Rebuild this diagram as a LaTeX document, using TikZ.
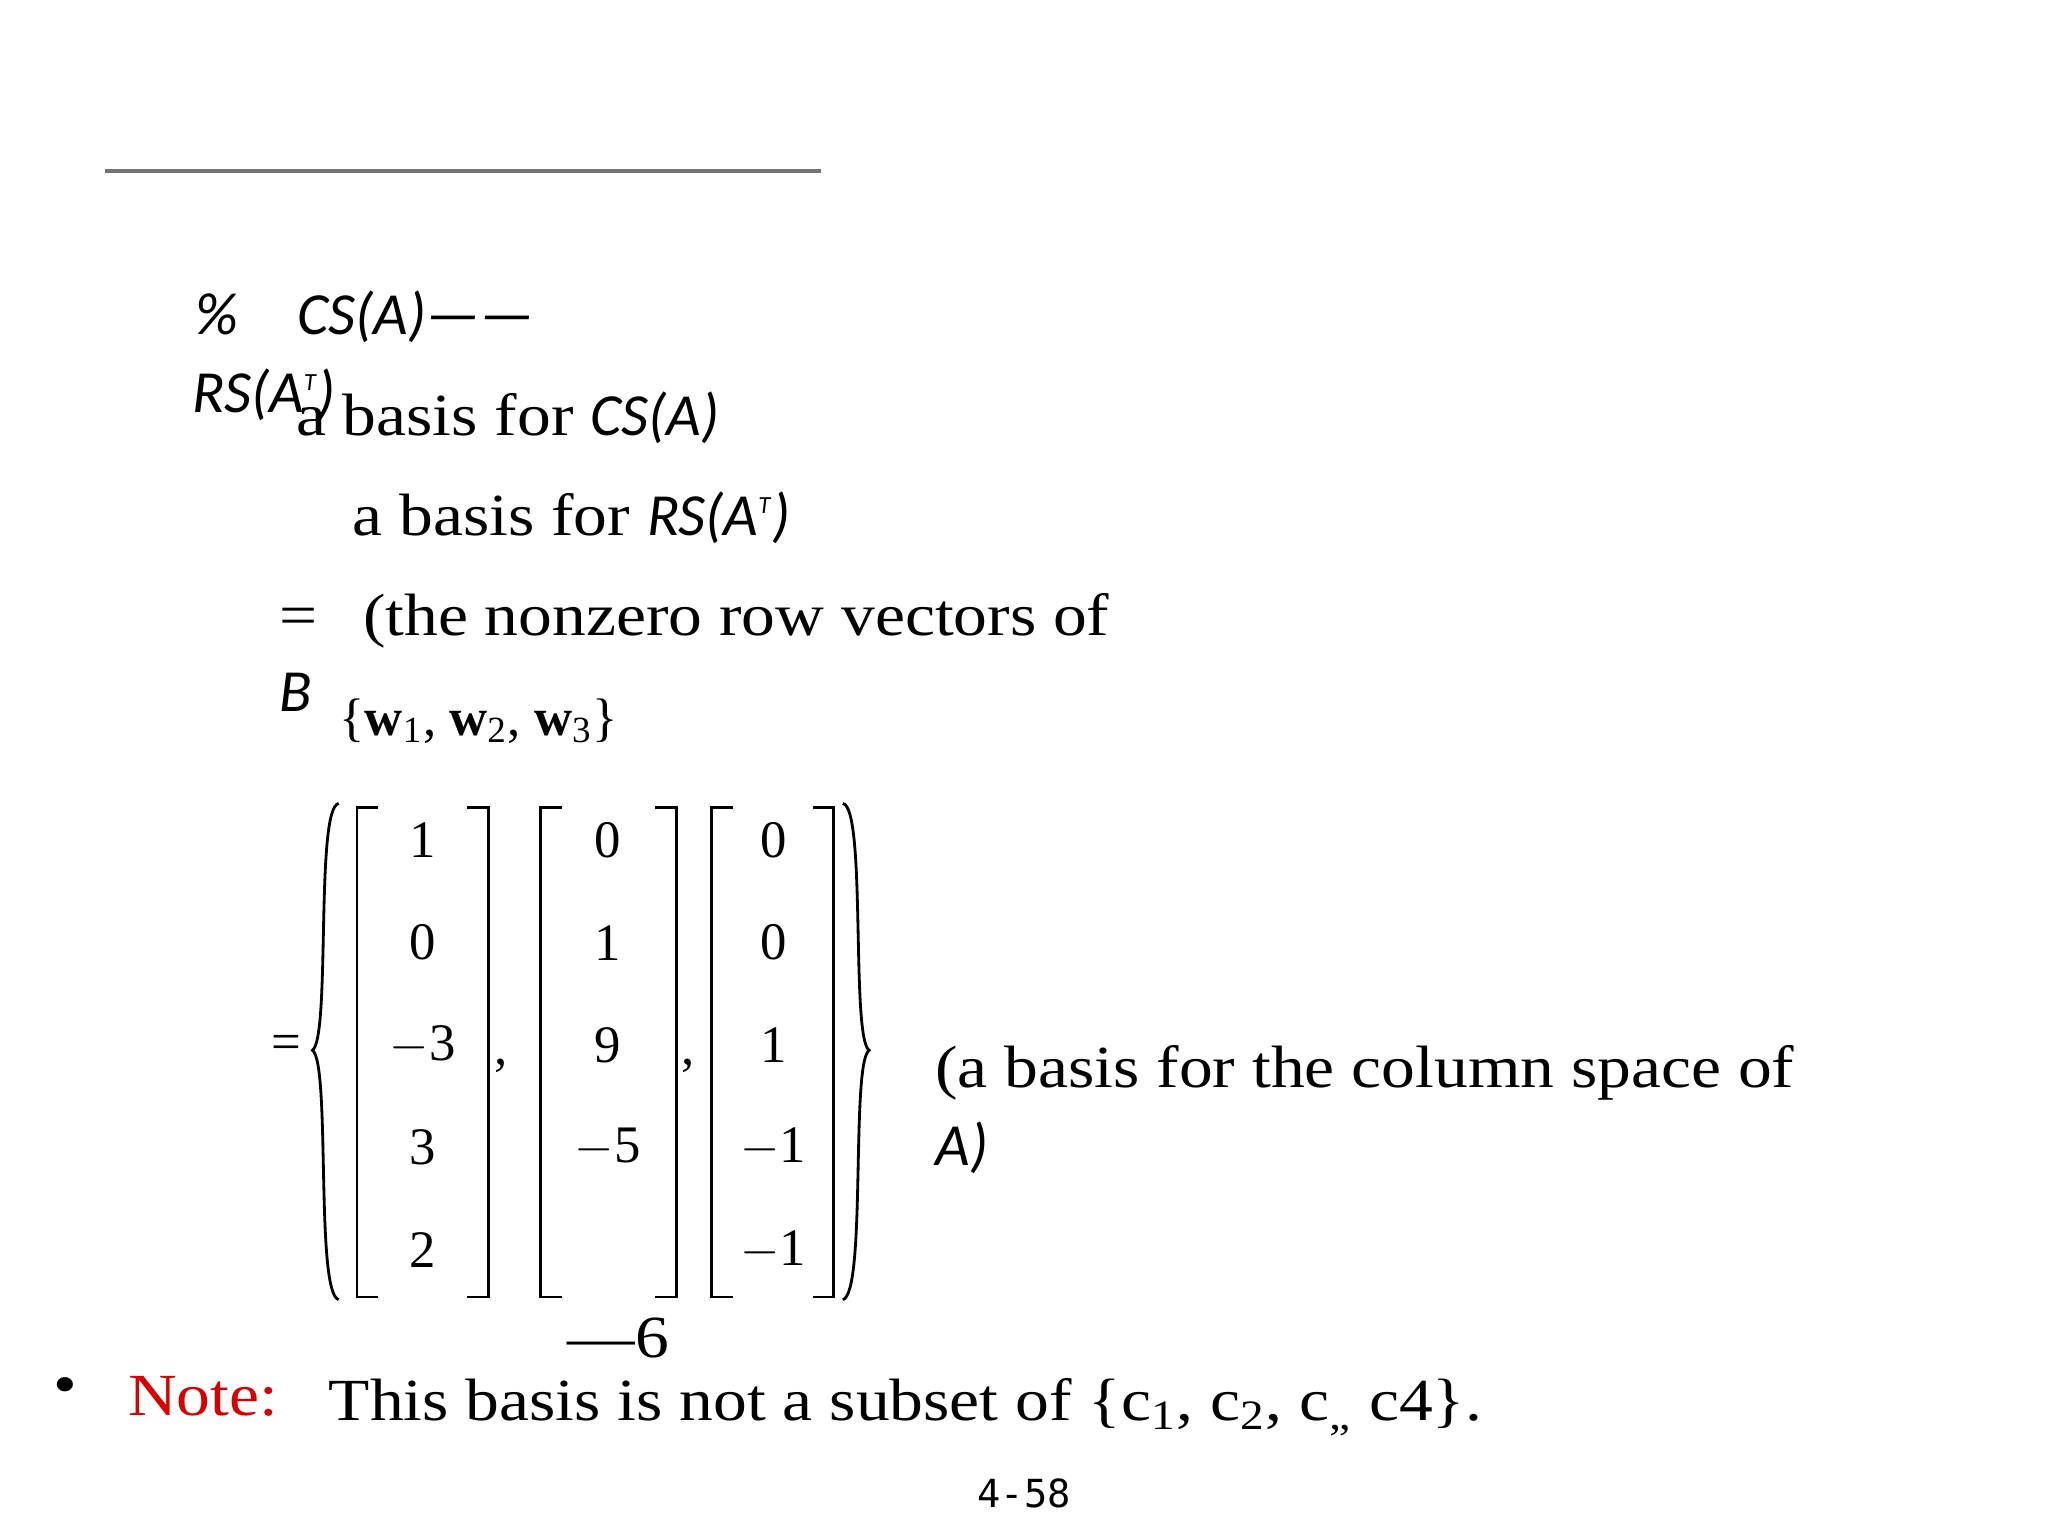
\documentclass[tikz,border=0pt]{standalone}
\usepackage{fontspec}
\setmainfont[FakeStretch=1.13]{Liberation Serif}
\newfontfamily\plainserif{Liberation Serif}
\newfontfamily\carl{Carlito}
\newfontfamily\numf{DejaVu Sans Mono}
\begin{document}
\begin{tikzpicture}[x=0.013128cm,y=-0.013128cm,
  txt/.style={anchor=base west,inner sep=0,font=\fontsize{17}{20}\selectfont},
  itx/.style={anchor=base west,inner sep=0,font=\carl\itshape\fontsize{17}{20}\selectfont},
  num/.style={inner sep=0,font=\plainserif\fontsize{15}{18}\selectfont},
  brk/.style={line width=0.8pt}]
\useasboundingbox (0,0) rectangle (1560,1170);
\draw[line width=1.2pt,gray!90!black] (80,130) -- (625,130);
\node[itx] (h1) at (148,255) {\%\quad CS(A)——};
\node[itx] (h2) at (146,314) {RS(A\textsuperscript{\scriptsize T})};
\node[txt] (l1) at (225,332) {a basis for {\carl\itshape CS(A)}};
\node[txt] (l2) at (268,408) {a basis for {\carl\itshape RS(A\textsuperscript{\scriptsize T})}};
\node[txt] (eq1) at (212,484) {=};
\node[txt] (l3) at (276,484) {(the nonzero row vectors of};
\node[itx] (B) at (212,542) {B};
\node[anchor=base west,inner sep=0,font=\plainserif\fontsize{15}{17}\selectfont] (w) at (258,560) {\{\textbf{w}\textsubscript{1}, \textbf{w}\textsubscript{2}, \textbf{w}\textsubscript{3}\}};
\node[num] (eq2) at (218,798) {=};
\draw[brk] (258,612) .. controls (240,615) and (252,790) .. (238,800) .. controls (252,810) and (240,985) .. (258,990);
\draw[brk] (642,612) .. controls (660,615) and (648,790) .. (662,800) .. controls (648,810) and (660,985) .. (642,990);
\foreach \a/\b in {272/372,412/515,542/635}{
  \draw[brk] (\a+16,615) -- (\a,615) -- (\a,988) -- (\a+16,988);
  \draw[brk] (\b-16,615) -- (\b,615) -- (\b,988) -- (\b-16,988);
}
\foreach \v [count=\i] in {1,0,$-$3,3,2}{\node[num] (a\i) at (322,640+78*\i-78) {\v};}
\foreach \v [count=\i] in {0,1,9,$-$5}{\node[num] (b\i) at (463,640+78*\i-78) {\v};}
\foreach \v [count=\i] in {0,0,1,$-$1,$-$1}{\node[num] (c\i) at (589,640+78*\i-78) {\v};}
\node[num] (k1) at (382,812) {,};
\node[num] (k2) at (524,812) {,};
\node[txt] (l4) at (712,828) {(a basis for the column space of};
\node[itx] (l5) at (712,888) {A)};
\node[txt] (m6) at (432,1034) {—6};
\node[txt] (bul) at (40,1070) {•};
\node[txt,text=red!85!black] (note) at (97,1078) {Note:};
\node[txt] (l6) at (250,1082) {This basis is not a subset of \{c\textsubscript{1}, c\textsubscript{2}, c\textsubscript{„} c4\}.};
\node[anchor=base,inner sep=0,font=\numf\fontsize{11}{13}\selectfont] (pg) at (780,1148) {4-58};
\end{tikzpicture}
\end{document}
